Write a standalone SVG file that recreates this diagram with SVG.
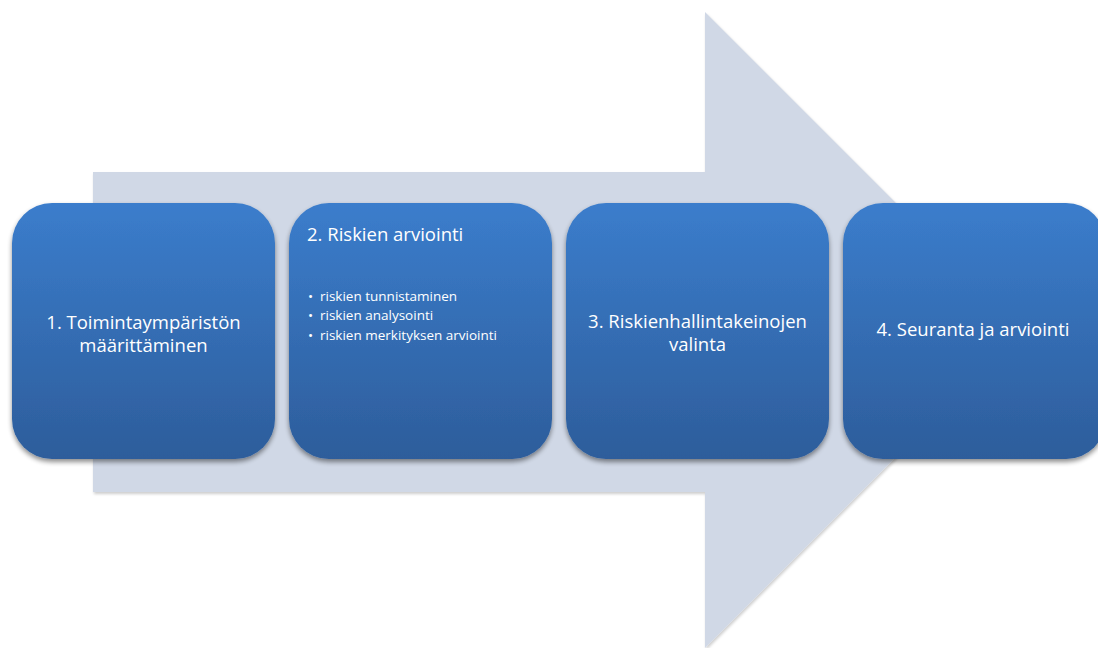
<svg xmlns="http://www.w3.org/2000/svg" width="1098" height="648" viewBox="0 0 1098 648">
<defs>
<linearGradient id="g" x1="0" y1="0" x2="0" y2="1">
<stop offset="0" stop-color="#3b7dcc"/>
<stop offset="1" stop-color="#2d5d9b"/>
</linearGradient>
<filter id="sh" x="-10%" y="-10%" width="120%" height="125%">
<feGaussianBlur in="SourceAlpha" stdDeviation="2.5"/>
<feOffset dx="0" dy="3" result="b"/>
<feComponentTransfer><feFuncA type="linear" slope="0.45"/></feComponentTransfer>
<feMerge><feMergeNode/><feMergeNode in="SourceGraphic"/></feMerge>
</filter>
<filter id="ash" x="-5%" y="-5%" width="110%" height="110%">
<feGaussianBlur in="SourceAlpha" stdDeviation="1.5"/>
<feOffset dx="1" dy="2"/>
<feComponentTransfer><feFuncA type="linear" slope="0.2"/></feComponentTransfer>
<feMerge><feMergeNode/><feMergeNode in="SourceGraphic"/></feMerge>
</filter>
</defs>
<style>
.box{fill:url(#g);filter:url(#sh)}
.t{font-family:"Open Sans","Noto Sans",sans-serif;fill:#ffffff;font-size:18.5px}
.c{text-anchor:middle}
.s{font-family:"Open Sans","Noto Sans",sans-serif;fill:#ffffff;font-size:13.5px}
</style>
<rect width="1098" height="648" fill="#ffffff"/>
<g id="arrow">
<path d="M93,172 L705,172 L705,12 L1023,330 L705,648 L705,492 L93,492 Z" fill="#d0d8e6" filter="url(#ash)"/>
</g>
<g id="connectors"></g>
<g id="node1">
<rect class="box" x="12" y="203" width="263" height="256" rx="40" ry="40"/>
<text class="t c" x="143.5" y="329">1. Toimintaympäristön</text>
<text class="t c" x="143.5" y="352">määrittäminen</text>
</g>
<g id="node2">
<rect class="box" x="289" y="203" width="263" height="256" rx="40" ry="40"/>
<text class="t" x="307" y="241">2. Riskien arviointi</text>
<text class="s" x="308" y="301">•</text>
<text class="s" x="320" y="301">riskien tunnistaminen</text>
<text class="s" x="308" y="320">•</text>
<text class="s" x="320" y="320">riskien analysointi</text>
<text class="s" x="308" y="340">•</text>
<text class="s" x="320" y="340">riskien merkityksen arviointi</text>
</g>
<g id="node3">
<rect class="box" x="566" y="203" width="263" height="256" rx="40" ry="40"/>
<text class="t c" x="697.5" y="328">3. Riskienhallintakeinojen</text>
<text class="t c" x="697.5" y="351">valinta</text>
</g>
<g id="node4">
<rect class="box" x="843" y="203" width="263" height="256" rx="40" ry="40"/>
<text class="t c" x="973" y="336">4. Seuranta ja arviointi</text>
</g>
</svg>
